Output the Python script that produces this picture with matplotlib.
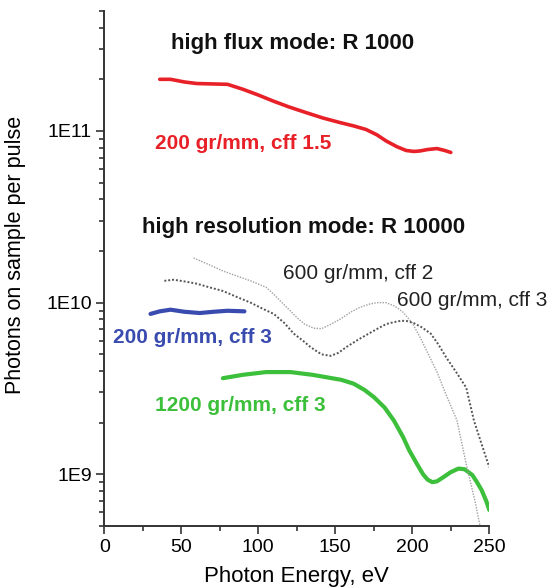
import numpy as np
import matplotlib
matplotlib.use("Agg")
import matplotlib.pyplot as plt
from matplotlib.ticker import LogLocator, FuncFormatter, MultipleLocator

plt.rcParams["font.family"] = ["Liberation Sans", "DejaVu Sans"]

# photon energy (eV) / photons on sample per pulse
red_E = [36, 43, 52, 60, 80, 90, 100, 110, 120, 131, 142, 153, 162, 170, 177,
         183, 190, 196, 201, 205, 210, 216, 221, 225]
red_v = [2.0e11, 2.0e11, 1.93e11, 1.89e11, 1.87e11, 1.75e11, 1.62e11, 1.49e11,
         1.38e11, 1.28e11, 1.19e11, 1.12e11, 1.07e11, 1.02e11, 9.5e10,
         8.75e10, 8.1e10, 7.7e10, 7.6e10, 7.65e10, 7.8e10, 7.9e10, 7.7e10, 7.5e10]

blue_E = [30, 36, 43, 52, 62, 71, 80, 91]
blue_v = [8.6e9, 8.9e9, 9.1e9, 8.85e9, 8.7e9, 8.85e9, 8.97e9, 8.9e9]

green_E = [77, 90, 105, 121, 135, 144, 154, 162, 169, 175, 182, 188, 194, 198,
           203, 207, 210, 213, 216, 220, 225, 230, 234, 239, 242, 245, 248, 250]
green_v = [3.63e9, 3.8e9, 3.94e9, 3.94e9, 3.8e9, 3.68e9, 3.55e9, 3.37e9, 3.1e9,
           2.82e9, 2.45e9, 2.06e9, 1.65e9, 1.38e9, 1.15e9, 1.0e9, 9.3e8, 9.0e8,
           9.1e8, 9.6e8, 1.03e9, 1.08e9, 1.07e9, 9.9e8, 9.0e8, 8.1e8, 7.0e8, 6.2e8]

cff2_E = [58, 67, 77, 86, 95, 105, 110, 114, 120, 125, 130, 136, 141, 146, 153,
          160, 166, 172, 177, 183, 189, 194, 200, 205, 210, 216, 222, 229, 235,
          241, 244]
cff2_v = [1.82e10, 1.68e10, 1.53e10, 1.43e10, 1.34e10, 1.23e10, 1.12e10, 1.03e10,
          9.1e9, 8.2e9, 7.5e9, 7.1e9, 7.05e9, 7.4e9, 8.0e9, 8.8e9, 9.4e9, 9.8e9,
          1.0e10, 1.0e10, 9.5e9, 8.8e9, 7.6e9, 6.3e9, 5.1e9, 3.95e9, 2.9e9, 2.06e9,
          1.15e9, 6.8e8, 5.0e8]

cff3_E = [39, 45, 52, 60, 68, 77, 86, 95, 103, 110, 117, 123, 129, 134, 141, 147,
          152, 157, 165, 173, 178, 183, 188, 193, 197, 201, 206, 212, 217, 222,
          228, 235, 240, 245, 250]
cff3_v = [1.34e10, 1.36e10, 1.33e10, 1.29e10, 1.23e10, 1.17e10, 1.08e10, 1.0e10,
          9.2e9, 8.6e9, 7.6e9, 6.6e9, 6.0e9, 5.5e9, 5.0e9, 4.9e9, 5.1e9, 5.5e9,
          6.1e9, 6.7e9, 7.1e9, 7.5e9, 7.7e9, 7.85e9, 7.8e9, 7.6e9, 7.2e9, 6.6e9,
          5.7e9, 4.8e9, 4.0e9, 3.2e9, 2.06e9, 1.5e9, 1.1e9]

RED, BLUE, GREEN = "#e82128", "#3a4bb0", "#3cbf3a"

fig = plt.figure(figsize=(5.49, 5.87), dpi=100)
ax = fig.add_axes([104.3 / 549, 1 - 526 / 587, 385 / 549, 515 / 587])

ax.plot(red_E, red_v, color=RED, lw=2.6, solid_capstyle="round", solid_joinstyle="round")
ax.plot(blue_E, blue_v, color=BLUE, lw=3.0, solid_capstyle="round", solid_joinstyle="round")
ax.plot(green_E, green_v, color=GREEN, lw=3.0, solid_capstyle="round", solid_joinstyle="round")
ax.plot(cff2_E, cff2_v, color="#a0a0a0", lw=1.0, ls=(0, (1, 1)))
ax.plot(cff3_E, cff3_v, color="#555555", lw=1.4, ls=(0, (1, 1)))

ax.set_yscale("log")
ax.set_xlim(0, 250)
ax.set_ylim(5e8, 5e11)
ax.xaxis.set_major_locator(MultipleLocator(50))
ax.xaxis.set_minor_locator(MultipleLocator(25))
ax.yaxis.set_major_locator(LogLocator(base=10))
ax.yaxis.set_minor_locator(LogLocator(base=10, subs=np.arange(2, 10)))
ax.yaxis.set_major_formatter(FuncFormatter(lambda v, p: f"1E{int(round(np.log10(v)))}"))
ax.tick_params(which="both", direction="out", color="#333333", labelsize=14, width=1.2)
ax.tick_params(which="major", length=6, pad=3)
ax.tick_params(which="minor", length=3.5)

for s in ("top", "right"):
    ax.spines[s].set_visible(False)
for s in ("left", "bottom"):
    ax.spines[s].set_linewidth(1.4)
    ax.spines[s].set_color("#333333")

ax.set_xlabel("Photon Energy, eV", fontsize=16)
ax.set_ylabel("Photons on sample per pulse", fontsize=15.5)
ax.xaxis.set_label_coords(0.5, -0.078)
ax.yaxis.set_label_coords(-0.203, 0.526)

head = dict(fontsize=16, fontweight="bold", va="center", color="#111111", clip_on=False)
bold = dict(fontsize=15, fontweight="bold", va="center", clip_on=False)
ax.text(122, 3.25e11, "high flux mode: R 1000", ha="center", **head)
ax.text(24.5, 2.73e10, "high resolution mode: R 10000", ha="left", **head)
ax.text(33, 8.5e10, "200 gr/mm, cff 1.5", ha="left", color=RED, **bold)
ax.text(5.6, 6.27e9, "200 gr/mm, cff 3", ha="left", color=BLUE, **bold)
ax.text(33, 2.52e9, "1200 gr/mm, cff 3", ha="left", color=GREEN, **bold)
ax.text(116, 1.47e10, "600 gr/mm, cff 2", ha="left", va="center", fontsize=15, color="#222222")
ax.text(190, 1.03e10, "600 gr/mm, cff 3", ha="left", va="center", fontsize=15,
        color="#222222", clip_on=False)

fig.savefig("out.png", dpi=100)
